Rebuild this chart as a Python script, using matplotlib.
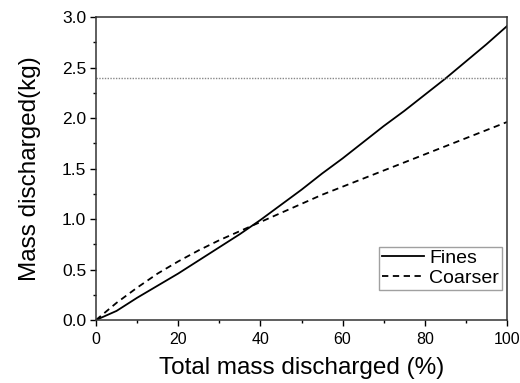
import matplotlib
matplotlib.use("Agg")
import matplotlib.pyplot as plt
from matplotlib.ticker import MultipleLocator

plt.rcParams["font.family"] = ["Liberation Sans", "DejaVu Sans"]

# --- data ---
pct = [0, 5, 10, 15, 20, 25, 30, 35, 40, 45, 50, 55, 60, 65, 70, 75, 80, 85, 90, 95, 100]
fines = [0.0, 0.09, 0.22, 0.34, 0.46, 0.59, 0.72, 0.85, 0.99, 1.14, 1.29, 1.45, 1.60,
         1.76, 1.92, 2.07, 2.23, 2.39, 2.56, 2.73, 2.91]
coarser = [0.0, 0.17, 0.32, 0.46, 0.58, 0.69, 0.79, 0.88, 0.97, 1.06, 1.15, 1.24, 1.32,
           1.40, 1.48, 1.56, 1.64, 1.72, 1.80, 1.88, 1.96]
limit_kg = 2.4

fig = plt.figure(figsize=(5.2, 3.83), dpi=100)
ax = fig.add_axes([96 / 520, 63 / 383, 411 / 520, 303 / 383])

ax.plot(pct, fines, color="black", lw=1.3, label="Fines")
ax.plot(pct, coarser, color="black", lw=1.3, ls=(0, (3.5, 2.5)), label="Coarser")
ax.axhline(limit_kg, color="#888888", lw=1.0, ls=(0, (1, 1)))

ax.set_xlim(0, 100)
ax.set_ylim(0, 3.0)
ax.xaxis.set_major_locator(MultipleLocator(20))
ax.xaxis.set_minor_locator(MultipleLocator(10))
ax.yaxis.set_major_locator(MultipleLocator(0.5))
ax.yaxis.set_minor_locator(MultipleLocator(0.25))
ax.yaxis.set_major_formatter(plt.FormatStrFormatter("%.1f"))

ax.tick_params(which="major", direction="out", length=4, width=1)
ax.tick_params(which="minor", direction="out", length=2.5, width=1)
ax.tick_params(axis="x", labelsize=11.5, pad=5)
ax.tick_params(axis="y", labelsize=12.5, pad=3)
for s in ax.spines.values():
    s.set_linewidth(1.1)
    s.set_color("#333333")

ax.set_xlabel("Total mass discharged (%)", fontsize=17.5, labelpad=7)
ax.set_ylabel("Mass discharged(kg)", fontsize=17.5, labelpad=15)

leg = ax.legend(loc="lower right", bbox_to_anchor=(0.988, 0.10), fontsize=14,
                frameon=True, fancybox=False, edgecolor="#888888",
                handlelength=2.2, borderpad=0.15, labelspacing=0.1,
                handletextpad=0.25, borderaxespad=0.0)
leg.get_frame().set_linewidth(1.0)

fig.savefig("out.png", dpi=100)
